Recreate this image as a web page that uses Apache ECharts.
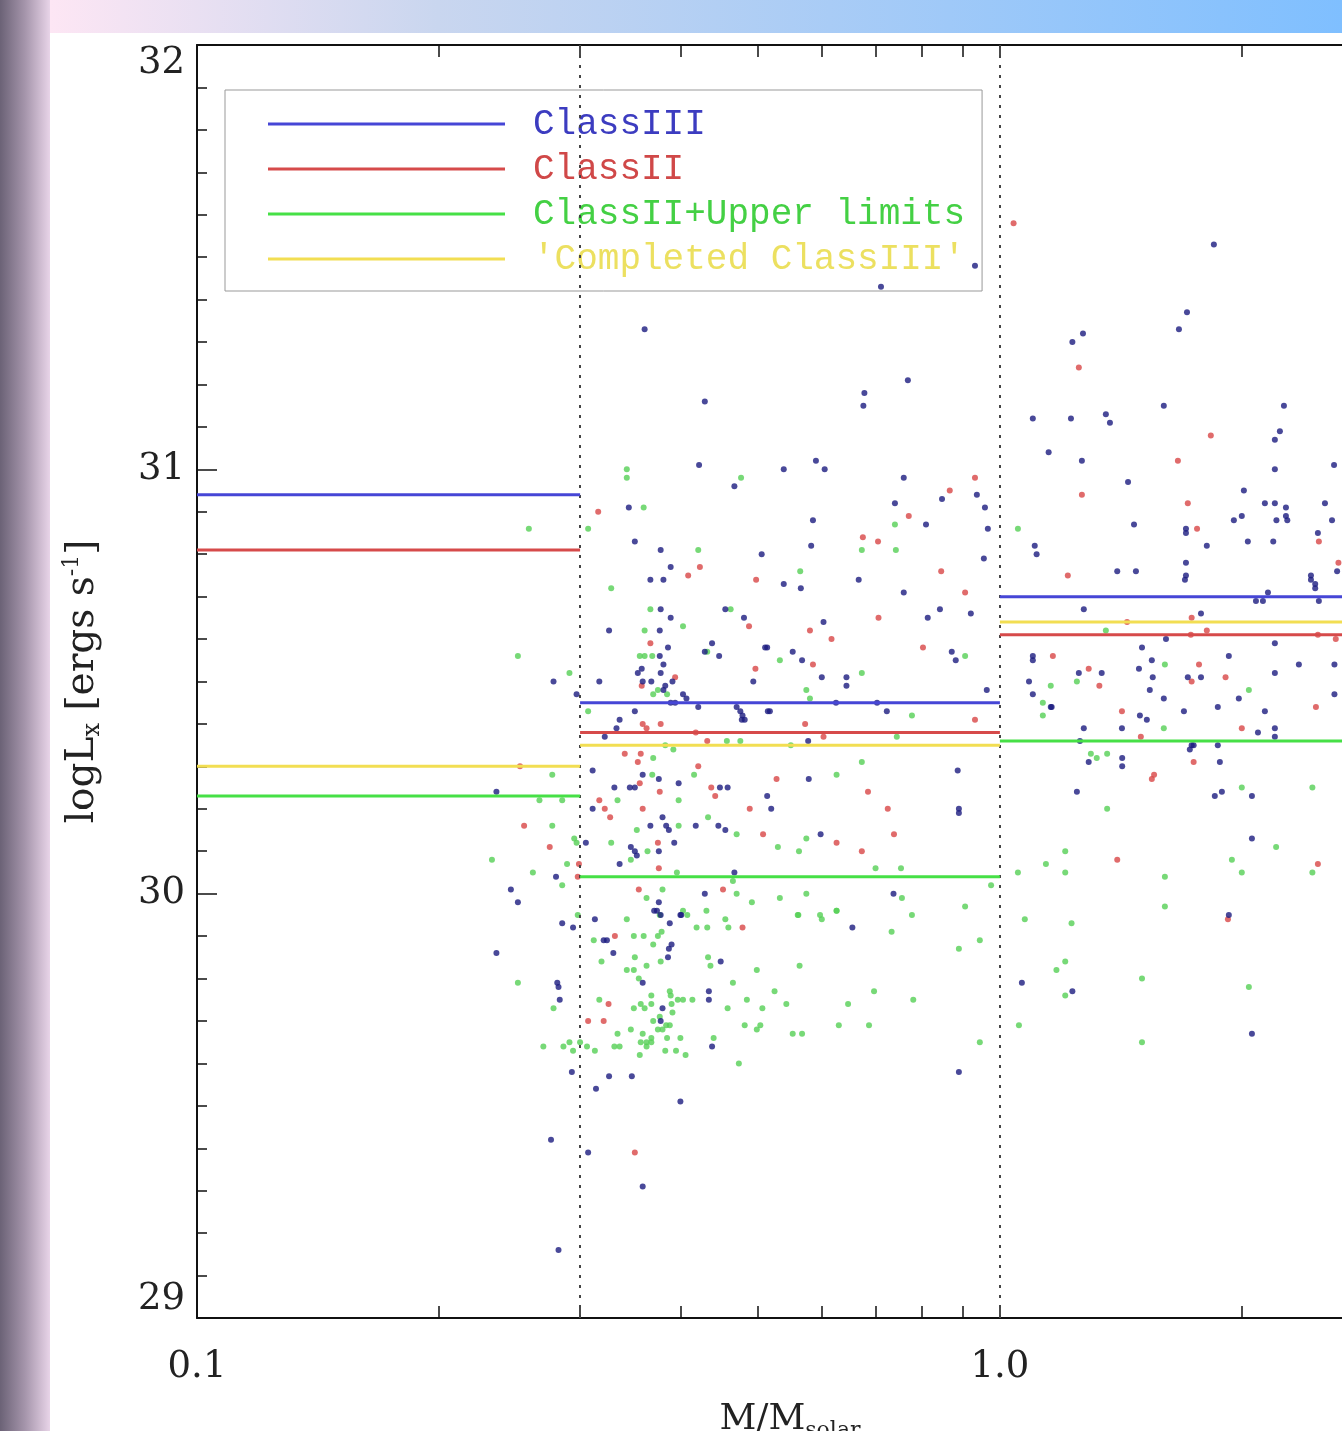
<!DOCTYPE html>
<html><head><meta charset="utf-8">
<script src="https://cdn.jsdelivr.net/npm/echarts@6/dist/echarts.min.js"></script>
<style>html,body{margin:0;padding:0;background:#fff}#c{width:1342px;height:1431px}</style>
</head><body><div id="c"></div>
<script>
// ---- bins and mean log Lx per bin ----
const binEdges = [0.1, 0.3, 1.0, 3.0];
const meanClassIII = [30.94, 30.45, 30.70];
const meanClassII = [30.81, 30.38, 30.61];
const meanClassIIUL = [30.23, 30.04, 30.36];
const meanCompleted = [30.30, 30.35, 30.64];

// ---- tick values ----
const xLabelValues = [0.1, 1.0];
const xTickValues = [0.2, 0.3, 0.4, 0.5, 0.6, 0.7, 0.8, 0.9, 1.0, 2.0, 3.0];
const yRange = [29, 32];

// ---- individual stars [M/Msolar, logLx] ----
const classIIIPts = [
[0.361,31.33],[0.429,31.16],[0.422,31.01],[0.467,30.96],[0.345,30.91],[0.351,30.83],[0.378,30.81],[0.505,30.80],[0.389,30.77],
[0.931,31.48],[0.711,31.43],[0.768,31.21],[0.678,31.18],[0.676,31.15],[0.590,31.02],[0.538,31.00],[0.605,31.00],[0.759,30.98],[0.936,30.94],[0.847,30.93],[0.740,30.92],[0.958,30.91],[0.585,30.88],[0.809,30.87],[0.966,30.86],[0.582,30.82],[0.955,30.79],
[1.099,31.12],[1.150,31.04],[1.105,30.82],[1.111,30.80],
[1.847,31.53],[1.710,31.37],[1.671,31.33],[1.231,31.30],[1.269,31.32],[1.600,31.15],[2.258,31.15],[1.226,31.12],[1.355,31.13],[1.371,31.11],[2.232,31.09],[2.20,31.07],[1.265,31.02],[2.20,31.00],[2.607,31.01],[1.444,30.97],[2.013,30.95],[2.138,30.92],[2.20,30.92],[2.271,30.91],[2.54,30.92],[1.469,30.87],[1.956,30.88],[2.001,30.89],[2.271,30.89],[2.21,30.88],[2.28,30.88],[2.592,30.88],[1.705,30.86],[1.705,30.85],[1.81,30.82],[2.036,30.83],[2.19,30.83],[2.489,30.85],[1.705,30.78],[1.40,30.76],[1.477,30.76],[2.44,30.75],[1.705,30.75],[2.63,30.76],
[0.367,30.74],[0.381,30.74],[0.378,30.67],[0.455,30.67],[0.389,30.65],[0.480,30.65],[0.326,30.62],[0.377,30.62],[0.438,30.59],[0.386,30.58],[0.429,30.57],[0.510,30.58],[0.447,30.56],[0.377,30.56],[0.381,30.54],[0.358,30.53],[0.354,30.52],[0.378,30.52],[0.278,30.50],[0.317,30.50],[0.359,30.50],[0.368,30.50],[0.493,30.50],[0.391,30.50],[0.383,30.49],[0.381,30.48],[0.403,30.47],[0.297,30.47],[0.407,30.46],[0.389,30.45],[0.394,30.45],[0.421,30.44],[0.470,30.44],[0.475,30.43],[0.478,30.42],[0.481,30.41],[0.477,30.41],[0.514,30.43],[0.351,30.43],[0.336,30.41],[0.333,30.39],[0.322,30.37],[0.311,30.29],[0.359,30.28],[0.376,30.27],[0.398,30.26],[0.331,30.25],[0.346,30.25],[0.351,30.25],[0.448,30.25],[0.458,30.25],[0.236,30.24],[0.513,30.23],[0.311,30.20],[0.380,30.18],[0.384,30.16],[0.387,30.15],[0.446,30.16],[0.455,30.15],[0.367,30.16],[0.418,30.16],[0.305,30.12],[0.393,30.12],[0.347,30.11],[0.351,30.10],[0.353,30.09],[0.376,30.10],[0.336,30.07],[0.467,30.05],[0.280,30.04],[0.246,30.01],[0.251,29.98],[0.429,30.00],[0.376,29.98],[0.374,29.96],[0.400,29.95],
[0.538,30.73],[0.565,30.72],[0.667,30.74],[0.759,30.71],[0.842,30.67],[0.813,30.65],[0.920,30.66],[0.603,30.64],[0.513,30.58],[0.552,30.57],[0.567,30.55],[0.871,30.57],[0.881,30.55],[0.600,30.51],[0.644,30.51],[0.644,30.49],[0.963,30.48],[0.625,30.45],[0.703,30.45],[0.517,30.43],[0.723,30.43],[0.577,30.36],[0.886,30.29],[0.578,30.27],[0.519,30.20],[0.889,30.20],[0.889,30.19],[0.598,30.14],[0.737,30.00],[1.099,30.56],[1.099,30.55],[1.087,30.50],[1.099,30.47],[1.157,30.44],
[1.700,30.74],[2.44,30.74],[2.47,30.73],[2.47,30.72],[2.157,30.71],[2.084,30.69],[2.126,30.69],[2.496,30.69],[1.272,30.67],[1.780,30.66],[1.61,30.60],[1.503,30.58],[2.20,30.59],[1.928,30.56],[1.546,30.55],[2.357,30.54],[2.61,30.54],[1.339,30.52],[1.254,30.52],[1.49,30.53],[1.55,30.51],[2.20,30.52],[1.714,30.51],[1.780,30.51],[1.537,30.48],[1.60,30.46],[1.984,30.46],[2.61,30.47],[1.16,30.44],[1.868,30.44],[1.695,30.43],[2.138,30.43],[1.494,30.42],[1.524,30.41],[1.272,30.39],[1.419,30.39],[2.20,30.39],[2.096,30.38],[1.258,30.36],[2.20,30.37],[1.733,30.35],[1.743,30.35],[1.724,30.34],[1.868,30.35],[1.42,30.32],[1.42,30.30],[1.29,30.31],[1.879,30.31],[1.247,30.24],[1.852,30.23],[1.89,30.24],[2.06,30.23],[2.06,30.13],[1.928,29.95],
[0.285,29.93],[0.294,29.92],[0.313,29.94],[0.371,29.96],[0.378,29.95],[0.388,29.93],[0.401,29.95],[0.321,29.89],[0.324,29.89],[0.387,29.87],[0.390,29.88],[0.330,29.86],[0.236,29.86],[0.386,29.85],[0.449,29.84],[0.281,29.79],[0.282,29.78],[0.359,29.79],[0.434,29.77],[0.434,29.75],[0.283,29.75],[0.380,29.73],[0.378,29.70],[0.438,29.64],[0.293,29.58],[0.326,29.57],[0.348,29.57],[0.314,29.54],[0.400,29.51],[0.276,29.42],[0.307,29.39],[0.359,29.31],[0.282,29.16],[0.889,29.58],[1.065,29.79],[1.231,29.77],[2.06,29.67],[0.655,29.92]
];
const classIIPts = [
[1.04,31.58],[0.316,30.90],[0.423,30.77],[0.409,30.75],[0.931,30.98],[0.866,30.95],[0.770,30.89],[0.675,30.84],[0.705,30.83],[0.845,30.76],[1.254,31.24],[1.831,31.08],[1.666,31.02],[1.265,30.94],[1.714,30.92],[2.496,30.83],[1.215,30.75],[2.64,30.78],[0.497,30.74],[0.367,30.59],[0.487,30.63],[0.496,30.53],[0.394,30.51],[0.358,30.49],[0.359,30.40],[0.363,30.39],[0.378,30.40],[0.418,30.38],[0.432,30.36],[0.2525,30.30],[0.341,30.33],[0.357,30.33],[0.354,30.31],[0.421,30.30],[0.356,30.26],[0.437,30.25],[0.377,30.24],[0.442,30.23],[0.317,30.22],[0.359,30.20],[0.488,30.20],[0.322,30.20],[0.327,30.18],[0.507,30.14],[0.2555,30.16],[0.275,30.11],[0.375,30.12],[0.376,30.06],[0.299,30.07],[0.298,30.04],[0.355,30.01],[0.452,30.01],[0.905,30.71],[0.706,30.65],[0.580,30.62],[0.617,30.60],[0.585,30.54],[0.802,30.58],[0.572,30.40],[0.931,30.41],[0.603,30.37],[0.527,30.27],[0.685,30.24],[0.725,30.20],[0.626,30.12],[0.738,30.14],[0.673,30.10],[1.164,30.56],[1.733,30.65],[1.44,30.64],[1.729,30.61],[1.81,30.62],[2.489,30.61],[2.62,30.60],[1.77,30.54],[1.29,30.53],[1.91,30.51],[1.33,30.49],[1.419,30.43],[2.475,30.44],[2.001,30.39],[1.498,30.37],[1.743,30.31],[1.546,30.27],[1.556,30.28],[1.40,30.08],[2.489,30.07],[1.923,29.94],[0.478,29.92],[0.3315,29.90],[0.3255,29.74],[0.307,29.70],[0.321,29.70],[0.351,29.39],[1.76,30.86],[1.733,30.50]
];
const upperLimitPts = [
[0.343,31.00],[0.343,30.98],[0.476,30.98],[0.360,30.91],[0.259,30.86],[0.307,30.86],[0.421,30.81],[0.740,30.87],[0.673,30.81],[0.742,30.81],[0.564,30.76],[1.053,30.86],[0.328,30.72],[0.367,30.67],[0.462,30.67],[0.403,30.63],[0.361,30.62],[0.432,30.57],[0.356,30.56],[0.361,30.56],[0.369,30.56],[0.251,30.56],[0.291,30.52],[0.375,30.48],[0.370,30.47],[0.385,30.47],[0.307,30.43],[0.457,30.36],[0.475,30.36],[0.383,30.35],[0.392,30.34],[0.370,30.32],[0.277,30.28],[0.416,30.28],[0.369,30.28],[0.267,30.22],[0.285,30.22],[0.398,30.22],[0.334,30.22],[0.433,30.18],[0.470,30.14],[0.277,30.16],[0.353,30.15],[0.398,30.16],[0.295,30.13],[0.297,30.12],[0.328,30.12],[0.364,30.10],[0.233,30.08],[0.289,30.07],[0.347,30.08],[0.262,30.05],[0.396,30.05],[0.285,30.02],[0.380,30.01],[0.465,30.03],[0.470,30.00],[0.491,29.98],[0.363,29.99],[0.377,29.95],[0.431,29.96],[0.403,29.96],
[0.574,30.48],[0.580,30.46],[0.532,30.55],[0.673,30.52],[0.777,30.42],[0.905,30.56],[0.549,30.35],[0.744,30.37],[0.673,30.31],[0.626,30.28],[0.574,30.13],[0.529,30.11],[0.562,30.10],[0.700,30.06],[0.753,30.06],[0.975,30.02],[0.532,29.99],[0.574,30.00],[0.755,29.99],[0.905,29.97],[0.777,29.95],[0.626,29.96],[0.561,29.95],[0.597,29.95],
[1.157,30.49],[1.131,30.45],[1.131,30.42],[1.053,30.05],[1.141,30.07],[1.605,30.54],[1.247,30.50],[2.042,30.48],[1.60,30.39],[1.298,30.33],[1.32,30.32],[1.36,30.33],[2.001,30.25],[2.45,30.25],[1.36,30.20],[2.208,30.11],[1.206,30.10],[1.945,30.08],[1.206,30.05],[1.605,30.04],[2.001,30.05],[2.45,30.05],[1.605,29.97],[1.355,30.62],
[0.298,29.95],[0.343,29.94],[0.408,29.95],[0.419,29.92],[0.432,29.92],[0.455,29.94],[0.459,29.92],[0.312,29.89],[0.350,29.90],[0.360,29.90],[0.375,29.90],[0.379,29.91],[0.370,29.88],[0.433,29.85],[0.436,29.83],[0.319,29.84],[0.351,29.85],[0.363,29.83],[0.378,29.84],[0.343,29.82],[0.350,29.82],[0.498,29.82],[0.251,29.79],[0.355,29.80],[0.465,29.79],[0.368,29.76],[0.388,29.77],[0.389,29.76],[0.403,29.75],[0.414,29.75],[0.397,29.75],[0.317,29.75],[0.350,29.73],[0.357,29.74],[0.361,29.73],[0.368,29.74],[0.390,29.74],[0.458,29.73],[0.484,29.75],[0.506,29.73],[0.278,29.73],[0.391,29.72],[0.370,29.70],[0.377,29.71],[0.384,29.69],[0.388,29.69],[0.380,29.68],[0.481,29.69],[0.503,29.69],[0.498,29.68],[0.334,29.67],[0.347,29.68],[0.359,29.67],[0.363,29.65],[0.368,29.66],[0.357,29.65],[0.368,29.65],[0.363,29.64],[0.375,29.68],[0.385,29.66],[0.400,29.66],[0.440,29.66],[0.270,29.64],[0.286,29.64],[0.291,29.65],[0.294,29.63],[0.300,29.65],[0.306,29.64],[0.313,29.63],[0.331,29.64],[0.336,29.64],[0.356,29.62],[0.383,29.63],[0.395,29.63],[0.406,29.62],[0.473,29.60],
[0.560,29.95],[0.600,29.94],[0.626,29.96],[0.733,29.91],[0.944,29.89],[0.889,29.87],[0.563,29.83],[0.524,29.77],[0.542,29.74],[0.647,29.74],[0.697,29.77],[0.780,29.75],[0.552,29.67],[0.567,29.67],[0.630,29.69],[0.687,29.69],[0.944,29.65],[1.074,29.94],[1.056,29.69],[1.176,29.82],
[1.228,29.93],[1.206,29.84],[1.206,29.76],[1.503,29.80],[2.042,29.78],[1.503,29.65]
];

const classes = [
  {name:'ClassIII', means:meanClassIII, line:'#4646d6', text:'#3c3cc0'},
  {name:'ClassII', means:meanClassII, line:'#d64a4a', text:'#d04848'},
  {name:'ClassII+Upper limits', means:meanClassIIUL, line:'#46e046', text:'#44d044'},
  {name:"'Completed ClassIII'", means:meanCompleted, line:'#f2de52', text:'#ece060'}
];

const series = [];
series.push({type:'scatter', name:'upper limits pts', data:upperLimitPts, symbolSize:6,
  itemStyle:{color:'#55d055'}, z:2, silent:true});
series.push({type:'scatter', name:'classII pts', data:classIIPts, symbolSize:6,
  itemStyle:{color:'#d84646'}, z:3, silent:true});
series.push({type:'scatter', name:'classIII pts', data:classIIIPts, symbolSize:6,
  itemStyle:{color:'#1c1c80'}, z:4, silent:true,
  markLine:{silent:true, symbol:'none', label:{show:false},
    lineStyle:{color:'#444', type:[3,7], width:2},
    data: binEdges.slice(1, -1).map(v => ({xAxis: v}))}
});
classes.forEach(c => {
  for (let i = 0; i < binEdges.length - 1; i++) {
    series.push({type:'line', name:c.name, showSymbol:false, symbol:'none', z:6, silent:true,
      data:[[binEdges[i], c.means[i]], [binEdges[i+1], c.means[i]]],
      lineStyle:{color:c.line, width:3}, itemStyle:{color:c.line}});
  }
});

const serif = 'DejaVu Serif';
const chart = echarts.init(document.getElementById('c'), null, {renderer:'canvas'});
chart.setOption({
  animation:false,
  backgroundColor:'#ffffff',
  graphic:[
    {type:'rect', left:0, top:0, shape:{width:50, height:1431}, silent:true,
     style:{fill:new echarts.graphic.LinearGradient(0,0,1,0,[
       {offset:0,color:'#6b6276'},{offset:0.5,color:'#a595ab'},{offset:1,color:'#e8d4e8'}])}},
    {type:'rect', left:50, top:0, shape:{width:1292, height:33}, silent:true,
     style:{fill:new echarts.graphic.LinearGradient(0,0,1,0,[
       {offset:0,color:'#fde6f4'},{offset:0.3,color:'#c9d6ef'},{offset:1,color:'#7fbfff'}])}}
  ],
  grid:{left:197, right:-41, top:45, bottom:113, containLabel:false, outerBoundsMode:'none'},
  legend:{
    orient:'vertical', left:225, top:90,
    padding:[16,17,14,43], itemGap:9, itemWidth:237, itemHeight:3, icon:'rect',
    borderColor:'#999', borderWidth:1, selectedMode:false,
    textStyle:{fontFamily:'Liberation Mono', fontSize:36, lineHeight:36, padding:[0,0,0,23]},
    data: classes.map(c => ({name:c.name, textStyle:{color:c.text}}))
  },
  xAxis:[
    {type:'log', logBase:10, min:binEdges[0], max:binEdges[binEdges.length-1], position:'bottom',
     name:'M/M{sub|solar}', nameLocation:'middle', nameGap:80,
     nameTextStyle:{fontFamily:serif, fontSize:36, color:'#222', lineHeight:44,
       rich:{sub:{fontFamily:serif, fontSize:22, lineHeight:22, verticalAlign:'bottom', color:'#222'}}},
     axisLine:{show:true, lineStyle:{color:'#111', width:2}},
     axisTick:{show:true, inside:true, length:12, customValues:xTickValues, lineStyle:{color:'#111', width:1.5}},
     axisLabel:{show:true, margin:31, customValues:xLabelValues, fontFamily:serif, fontSize:37, color:'#222',
       formatter: v => Number(v).toFixed(1)},
     minorTick:{show:false}, splitLine:{show:false}},
    {type:'log', logBase:10, min:binEdges[0], max:binEdges[binEdges.length-1], position:'top',
     axisLine:{show:true, lineStyle:{color:'#111', width:2}},
     axisTick:{show:true, inside:true, length:12, customValues:xTickValues, lineStyle:{color:'#111', width:1.5}},
     axisLabel:{show:false}, splitLine:{show:false}}
  ],
  yAxis:{type:'value', min:yRange[0], max:yRange[1], interval:1,
     name:'logL{sub|x} [ergs s{sup|-1}]', nameLocation:'middle', nameGap:92,
     nameTextStyle:{fontFamily:serif, fontSize:39, color:'#222', lineHeight:44,
       rich:{sub:{fontFamily:serif, fontSize:24, lineHeight:24, verticalAlign:'bottom', color:'#222'},
             sup:{fontFamily:serif, fontSize:22, lineHeight:22, verticalAlign:'top', color:'#222'}}},
     axisLine:{show:true, lineStyle:{color:'#111', width:2}},
     axisTick:{show:true, inside:true, length:20, lineStyle:{color:'#111', width:1.5}},
     minorTick:{show:true, splitNumber:10, length:10, lineStyle:{color:'#111', width:1.5}},
     axisLabel:{margin:12, fontFamily:serif, fontSize:37, color:'#222',
       verticalAlignMinLabel:'bottom', verticalAlignMaxLabel:'top'},
     splitLine:{show:false}},
  series: series
});
</script></body></html>
